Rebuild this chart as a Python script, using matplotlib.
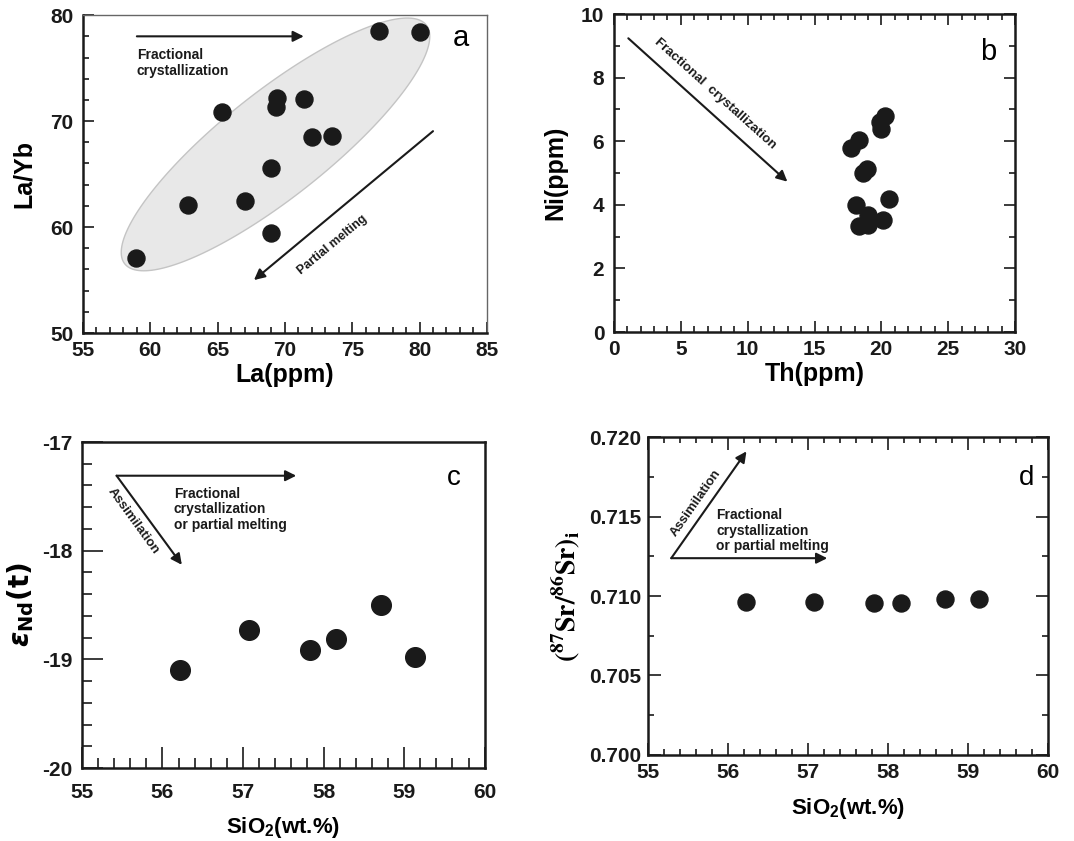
import matplotlib
matplotlib.use('Agg')
import matplotlib.pyplot as plt
import numpy as np
from matplotlib.ticker import MultipleLocator, FormatStrFormatter

plt.rcParams['font.family'] = ['Liberation Sans', 'DejaVu Sans']
plt.rcParams['font.weight'] = 'bold'
plt.rcParams['axes.labelweight'] = 'bold'
plt.rcParams['axes.unicode_minus'] = False
plt.rcParams['mathtext.fontset'] = 'custom'
plt.rcParams['mathtext.rm'] = 'Liberation Sans:bold'
plt.rcParams['mathtext.bf'] = 'Liberation Sans:bold'

# (a) La vs La/Yb
la = [58.9, 62.8, 65.3, 67.0, 69.0, 69.0, 69.3, 69.4, 71.4, 72.0, 73.5, 77.0, 80.0]
la_yb = [57.1, 62.1, 70.9, 62.5, 65.6, 59.4, 71.3, 72.2, 72.1, 68.5, 68.6, 78.5, 78.4]

# (b) Th vs Ni
th = [17.7, 18.3, 18.1, 18.3, 18.6, 18.9, 19.0, 19.0, 19.9, 20.3, 20.0, 20.1, 20.6]
ni = [5.8, 6.05, 4.0, 3.35, 5.0, 5.12, 3.68, 3.37, 6.62, 6.78, 6.38, 3.53, 4.18]

# (c, d) SiO2 vs eNd(t) and (87Sr/86Sr)i
sio2 = [56.22, 57.07, 57.83, 58.16, 58.71, 59.14]
end_t = [-19.10, -18.73, -18.91, -18.81, -18.50, -18.98]
sr_i = [0.70965, 0.70961, 0.70959, 0.70959, 0.70980, 0.70980]

# grey field in (a): centre and two conjugate half-axes in data units
ell_c = (69.3, 67.8)
ell_u = (11.2, 11.27)
ell_v = (-2.43, 3.90)

dark = '#1a1a1a'
fig = plt.figure(figsize=(10.74, 8.41), dpi=100)


def style(ax, fs, tick_len, allsides, lab_pad):
    ax.tick_params(which='both', direction='in', width=1.2, colors=dark,
                   top=allsides, right=allsides, labelsize=fs)
    ax.tick_params(which='major', length=tick_len)
    ax.tick_params(which='minor', length=tick_len * 0.5)
    ax.tick_params(axis='x', pad=lab_pad[0])
    ax.tick_params(axis='y', pad=lab_pad[1])
    for s in ax.spines.values():
        s.set_linewidth(1.8)
        s.set_color(dark)


def arrow(ax, start, end):
    ax.annotate('', xy=end, xytext=start,
                arrowprops=dict(arrowstyle='-|>', color=dark, lw=1.5,
                                mutation_scale=16, shrinkA=0, shrinkB=0))


# ---------- a ----------
ax = fig.add_axes([0.0773, 0.604, 0.376, 0.378])
t = np.linspace(0, 2 * np.pi, 200)
ex = ell_c[0] + ell_u[0] * np.cos(t) + ell_v[0] * np.sin(t)
ey = ell_c[1] + ell_u[1] * np.cos(t) + ell_v[1] * np.sin(t)
ax.fill(ex, ey, facecolor='#e8e8e8', edgecolor='#c4c4c4', lw=1, zorder=1)
ax.scatter(la, la_yb, s=150, color=dark, zorder=3)
ax.set_xlim(55, 85)
ax.set_ylim(50, 80)
ax.xaxis.set_major_locator(MultipleLocator(5))
ax.xaxis.set_minor_locator(MultipleLocator(1))
ax.yaxis.set_major_locator(MultipleLocator(10))
ax.yaxis.set_minor_locator(MultipleLocator(2))
style(ax, 15, 8, False, (6, 7))
ax.spines['top'].set_linewidth(1.0)
ax.spines['right'].set_linewidth(1.0)
ax.spines['top'].set_color('#666666')
ax.spines['right'].set_color('#666666')
ax.set_xlabel('La(ppm)', fontsize=18, labelpad=2)
ax.set_ylabel('La/Yb', fontsize=18, labelpad=10)
arrow(ax, (59.0, 78.0), (71.4, 78.0))
ax.text(59.0, 76.9, 'Fractional\ncrystallization', fontsize=10,
        va='top', ha='left', color=dark, linespacing=1.15)
arrow(ax, (81.0, 69.05), (67.7, 55.0))
ax.text(73.5, 58.3, 'Partial melting', fontsize=9,
        rotation=39.6, rotation_mode='anchor', ha='center', va='center', color=dark)
ax.text(83.1, 77.8, 'a', fontsize=21, fontweight='normal', ha='center', va='center')

# ---------- b ----------
ax = fig.add_axes([0.5717, 0.6052, 0.3734, 0.378])
ax.scatter(th, ni, s=150, color=dark, zorder=3)
ax.set_xlim(0, 30)
ax.set_ylim(0, 10)
ax.xaxis.set_major_locator(MultipleLocator(5))
ax.xaxis.set_minor_locator(MultipleLocator(1))
ax.yaxis.set_major_locator(MultipleLocator(2))
ax.yaxis.set_minor_locator(MultipleLocator(1))
style(ax, 15, 8, True, (6, 7))
ax.set_xlabel('Th(ppm)', fontsize=18, labelpad=2)
ax.set_ylabel('Ni(ppm)', fontsize=18, labelpad=10)
arrow(ax, (1.07, 9.24), (12.97, 4.73))
ax.text(7.56, 7.51, 'Fractional  crystallization', fontsize=9.5,
        rotation=-42, rotation_mode='anchor', ha='center', va='center', color=dark)
ax.text(28.0, 8.82, 'b', fontsize=21, fontweight='normal', ha='center', va='center')

# ---------- c ----------
ax = fig.add_axes([0.0763, 0.0868, 0.375, 0.3876])
ax.scatter(sio2, end_t, s=200, color=dark, zorder=3)
ax.set_xlim(55, 60)
ax.set_ylim(-20, -17)
ax.xaxis.set_major_locator(MultipleLocator(1))
ax.xaxis.set_minor_locator(MultipleLocator(0.2))
ax.yaxis.set_major_locator(MultipleLocator(1))
ax.yaxis.set_minor_locator(MultipleLocator(0.2))
style(ax, 15, 15, False, (11, 7))
ax.set_xlabel(r'SiO$_\mathbf{2}$(wt.%)', fontsize=16, labelpad=9)
ax.set_ylabel(r'$\varepsilon_{\mathbf{Nd}}\mathbf{(t)}$', fontsize=20,
              math_fontfamily='dejavusans', labelpad=4)
arrow(ax, (55.43, -17.31), (57.66, -17.31))
arrow(ax, (55.43, -17.31), (56.24, -18.13))
ax.text(55.64, -17.73, 'Assimilation', fontsize=9.5,
        rotation=-54, rotation_mode='anchor', ha='center', va='center', color=dark)
ax.text(56.14, -17.41, 'Fractional\ncrystallization\nor partial melting', fontsize=10,
        va='top', ha='left', color=dark, linespacing=1.15)
ax.text(59.62, -17.33, 'c', fontsize=20, fontweight='normal', ha='center', va='center')

# ---------- d ----------
ax = fig.add_axes([0.6034, 0.1023, 0.3724, 0.378])
ax.scatter(sio2, sr_i, s=150, color=dark, zorder=3)
ax.set_xlim(55, 60)
ax.set_ylim(0.700, 0.720)
ax.xaxis.set_major_locator(MultipleLocator(1))
ax.xaxis.set_minor_locator(MultipleLocator(0.2))
ax.yaxis.set_major_locator(MultipleLocator(0.005))
ax.yaxis.set_minor_locator(MultipleLocator(0.0025))
ax.yaxis.set_major_formatter(FormatStrFormatter('%.3f'))
style(ax, 15, 9, True, (6, 5))
ax.set_xlabel(r'SiO$_\mathbf{2}$(wt.%)', fontsize=16, labelpad=10)
ax.set_ylabel(r'$\mathbf{(^{87}Sr/^{86}Sr)_i}$', fontsize=20,
              math_fontfamily='stix', labelpad=5)
arrow(ax, (55.29, 0.71238), (57.24, 0.71238))
arrow(ax, (55.29, 0.71238), (56.23, 0.7191))
ax.text(55.60, 0.71584, 'Assimilation', fontsize=9.5,
        rotation=55, rotation_mode='anchor', ha='center', va='center', color=dark)
ax.text(55.85, 0.71553, 'Fractional\ncrystallization\nor partial melting', fontsize=10,
        va='top', ha='left', color=dark, linespacing=1.15)
ax.text(59.73, 0.7174, 'd', fontsize=20, fontweight='normal', ha='center', va='center')

fig.savefig('out.png', dpi=100, facecolor='white')
